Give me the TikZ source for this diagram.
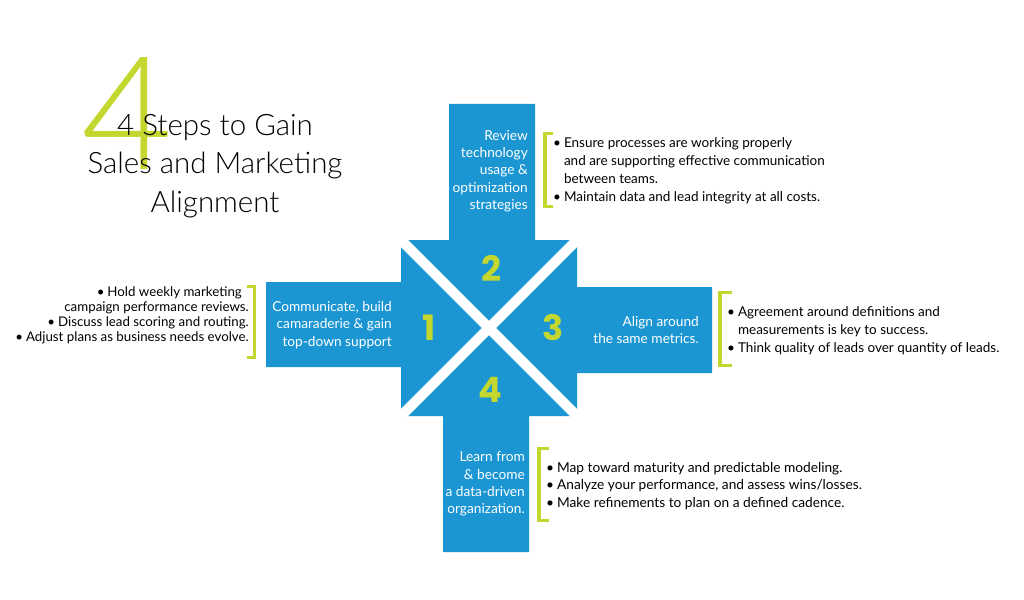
\documentclass[tikz,border=0pt]{standalone}
\usepackage{fontspec}
\setmainfont{Lato}
\newfontfamily\titlefont{Lato Light}
\newfontfamily\numfont{Poppins}
\definecolor{stepblue}{HTML}{1B96D3}
\definecolor{stepgreen}{HTML}{C3D72E}
\begin{document}
\begin{tikzpicture}[x=1pt,y=-1pt,
  stemtext/.style={text=white, font=\fontsize{13.7}{17.3}\selectfont, align=right, inner sep=0pt, anchor=east},
  numtext/.style={text=stepgreen, font=\numfont\bfseries\fontsize{35}{35}\selectfont, inner sep=0pt},
  bullettext/.style={text=black, inner sep=0pt},
  bracketline/.style={draw=stepgreen, line width=3.5pt}]
\useasboundingbox (0,0) rectangle (1024,599);
\fill[white] (0,0) rectangle (1024,599);

% title
\node[text=stepgreen, font=\titlefont\fontsize{158}{158}\selectfont, inner sep=0pt, anchor=base] (bigfour) at (127,169) {4};
\node[font=\titlefont\fontsize{29.5}{38.5}\selectfont, align=center, inner sep=0pt] (title) at (215,166) {4 Steps to Gain\\Sales and Marketing\\Alignment};

% blue arrows
\fill[stepblue] (449,104) rectangle (535,241)
  (266,282) rectangle (402,367)
  (576,287) rectangle (712,373)
  (443,415) rectangle (529,552)
  (401,240) rectangle (577,416);
\draw[white, line width=10pt] (396,235) -- (582,421);
\draw[white, line width=10pt] (582,235) -- (396,421);

% numbers
\node[numtext] (n2) at (491,268) {2};
\node[numtext] (n1) at (429,328) {1};
\node[numtext] (n3) at (553,328) {3};
\node[numtext] (n4) at (490,390) {4};

% stem texts
\node[stemtext] (s2) at (528,171) {Review\\technology\\usage \&\\optimization\\strategies};
\node[stemtext] (s1) at (392,325) {Communicate, build\\camaraderie \& gain\\top-down support};
\node[stemtext] (s3) at (699,330) {Align around\\the same metrics.};
\node[stemtext] (s4) at (525,484) {Learn from\\\& become\\a data-driven\\organization.};

% brackets
\draw[bracketline] (553,133.5) -- (545,133.5) -- (545,206.5) -- (553,206.5);
\draw[bracketline] (247,286.5) -- (254.5,286.5) -- (254.5,357.5) -- (247,357.5);
\draw[bracketline] (732,292.5) -- (720,292.5) -- (720,365.5) -- (732,365.5);
\draw[bracketline] (549,448.5) -- (539,448.5) -- (539,520.5) -- (549,520.5);

% bullet texts
\node[bullettext, anchor=west, font=\fontsize{13.5}{18}\selectfont] (b2) at (553,171) {\begin{tabular}{@{}l@{\hspace{3pt}}l@{}}\textbullet & Ensure processes are working properly\\ & and are supporting effective communication\\ & between teams.\\ \textbullet & Maintain data and lead integrity at all costs.\end{tabular}};
\node[bullettext, anchor=east, font=\fontsize{13.3}{15}\selectfont] (b1) at (249,316) {\begin{tabular}{@{}r@{}}\textbullet\hspace{3pt}Hold weekly marketing\kern7pt\\ campaign performance reviews.\\ \textbullet\hspace{3pt}Discuss lead scoring and routing.\\ \textbullet\hspace{3pt}Adjust plans as business needs evolve.\end{tabular}};
\node[bullettext, anchor=west, font=\fontsize{13.5}{17.7}\selectfont] (b3) at (727,331) {\begin{tabular}{@{}l@{\hspace{3pt}}l@{}}\textbullet & Agreement around definitions and\\ & measurements is key to success.\\ \textbullet & Think quality of leads over quantity of leads.\end{tabular}};
\node[bullettext, anchor=west, font=\fontsize{13.7}{17.5}\selectfont] (b4) at (546,486) {\begin{tabular}{@{}l@{\hspace{3pt}}l@{}}\textbullet & Map toward maturity and predictable modeling.\\ \textbullet & Analyze your performance, and assess wins/losses.\\ \textbullet & Make refinements to plan on a defined cadence.\end{tabular}};
\end{tikzpicture}
\end{document}
